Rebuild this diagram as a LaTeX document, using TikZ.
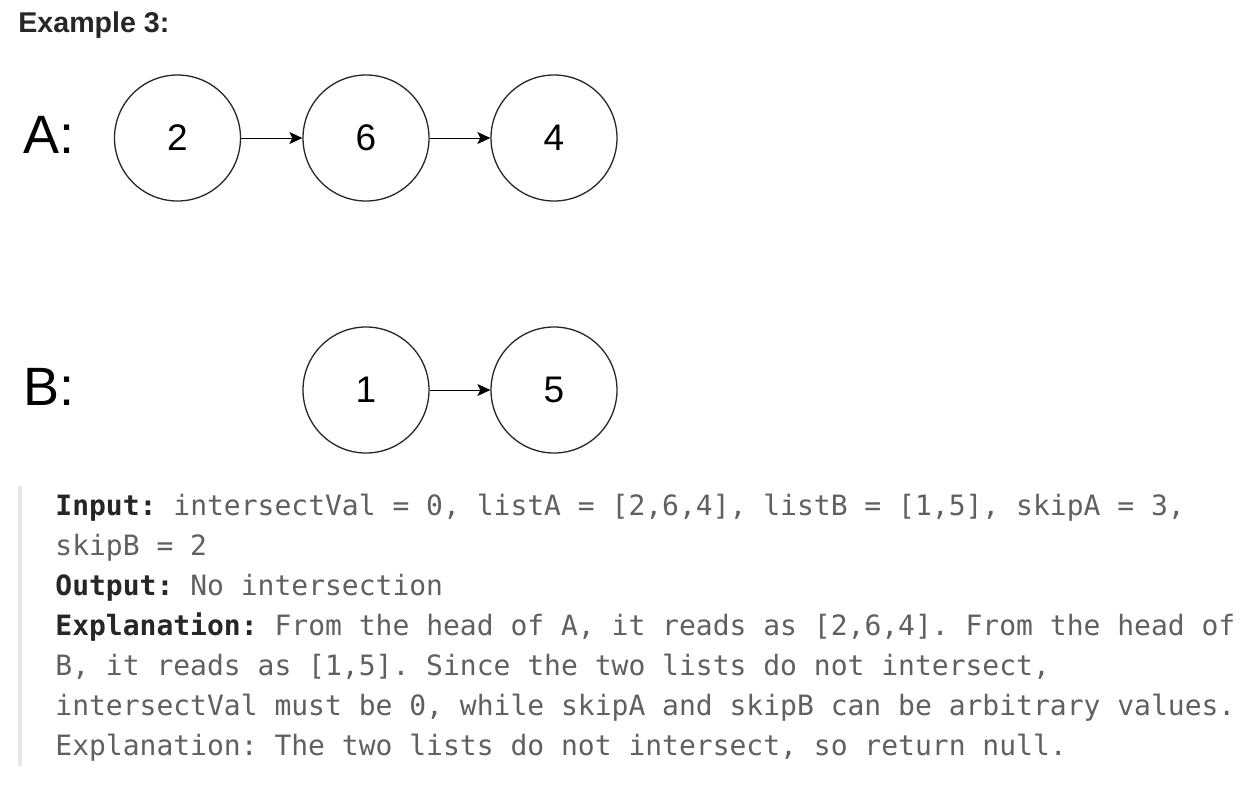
\documentclass[tikz,border=0pt]{standalone}
\usepackage{fontspec}
\setmainfont{Liberation Sans}
\newfontfamily\codefont{DejaVu Sans Mono}
\usetikzlibrary{arrows.meta}
\definecolor{bodygray}{HTML}{606060}
\definecolor{labeldark}{HTML}{262626}
\definecolor{barcol}{HTML}{E6E6E6}
\tikzset{
  listnode/.style={circle, draw=black!85, line width=0.65pt, minimum size=126*0.5pt, inner sep=0pt, font=\fontsize{18.5}{20}\selectfont},
  link/.style={draw=black, line width=0.5pt, -{Stealth[length=6.5pt,width=6pt,inset=1.5pt]}},
  biglabel/.style={anchor=base west, inner sep=0pt, font=\fontsize{27}{30}\selectfont},
  codeline/.style={anchor=base west, inner sep=0pt, text=bodygray, font=\codefont\fontsize{14}{20}\selectfont\frenchspacing},
}
\newcommand{\lbl}[1]{\textcolor{labeldark}{\bfseries #1}}
\begin{document}
\begin{tikzpicture}[x=0.5pt,y=-0.5pt]
\path[use as bounding box, fill=white] (0,0) rectangle (1248,788);
% title
\node[anchor=base west, inner sep=0pt, text=labeldark, font=\bfseries\fontsize{14.3}{16}\selectfont] (title) at (18,32) {Example 3:};
% list labels
\node[biglabel] (la) at (23,153) {A:};
\node[biglabel] (lb) at (23,405) {B:};
% list A
\node[listnode] (a1) at (177.5,138) {2};
\node[listnode] (a2) at (366,138) {6};
\node[listnode] (a3) at (554,138) {4};
% list B
\node[listnode] (b1) at (366,390) {1};
\node[listnode] (b2) at (554,390) {5};
\draw[link] (a1) -- (a2);
\draw[link] (a2) -- (a3);
\draw[link] (b1) -- (b2);
% quote bar
\fill[barcol] (18,486) rectangle (22,766);
% text
\node[codeline] (t1) at (55,515) {\lbl{Input:} intersectVal = 0, listA = [2,6,4], listB = [1,5], skipA = 3,};
\node[codeline] (t2) at (55,555) {skipB = 2};
\node[codeline] (t3) at (55,595) {\lbl{Output:} No intersection};
\node[codeline] (t4) at (55,635) {\lbl{Explanation:} From the head of A, it reads as [2,6,4]. From the head of};
\node[codeline] (t5) at (55,675) {B, it reads as [1,5]. Since the two lists do not intersect,};
\node[codeline] (t6) at (55,715) {intersectVal must be 0, while skipA and skipB can be arbitrary values.};
\node[codeline] (t7) at (55,755) {Explanation: The two lists do not intersect, so return null.};
\end{tikzpicture}
\end{document}
